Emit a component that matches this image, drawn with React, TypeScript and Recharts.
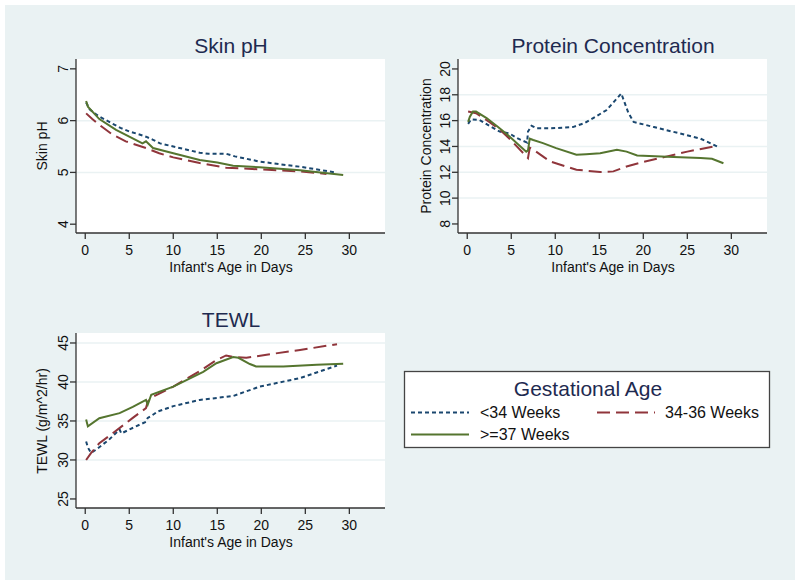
import { CartesianGrid, Line, LineChart, ReferenceLine, XAxis, YAxis } from 'recharts'

const NAVY = '#1a476f'
const MAROON = '#90353b'
const GREEN = '#55752f'
const BG = '#eaf2f3'
const INK = '#1e2a50'
const FONT = '"Liberation Sans", Arial, sans-serif'

const dayTicks = [0, 5, 10, 15, 20, 25, 30]

// Skin pH, [day, value]
const phLt34 = [[0.1, 6.35], [0.5, 6.22], [1, 6.15], [1.6, 6.08], [3, 5.95], [4, 5.86], [5, 5.79], [6, 5.74], [6.9, 5.69], [7.7, 5.63], [8.5, 5.56], [10, 5.5], [12, 5.42], [13, 5.38], [14, 5.36], [16, 5.36], [17, 5.31], [19.8, 5.21], [22, 5.16], [24.4, 5.11], [28.4, 5.0]]
const ph3436 = [[0.1, 6.14], [0.8, 6.03], [1.6, 5.92], [3.1, 5.73], [4.6, 5.6], [6.9, 5.47], [8.4, 5.37], [10, 5.29], [13, 5.18], [16, 5.09], [19.8, 5.06], [24.4, 5.02], [27.4, 4.97]]
const phGe37 = [[0.1, 6.38], [0.3, 6.27], [1.6, 6.03], [3.5, 5.82], [5, 5.69], [6.5, 5.56], [6.9, 5.6], [7.7, 5.47], [10, 5.37], [13, 5.24], [15, 5.19], [16.8, 5.13], [19.8, 5.1], [24.4, 5.04], [29.3, 4.95]]
const phTicks = [4, 5, 6, 7]
const phGrid = [5, 6]

// Protein concentration, [day, value]
const prLt34 = [[0.1, 15.75], [0.45, 16.1], [1.4, 16.05], [2.5, 15.6], [3.7, 15.15], [4.8, 15.0], [5.8, 14.6], [6.8, 14.3], [6.9, 15.15], [7.3, 15.6], [7.9, 15.4], [9.4, 15.4], [12, 15.5], [13.3, 15.8], [14.3, 16.2], [15.8, 16.8], [17.5, 18.1], [18.3, 16.6], [18.9, 15.9], [21.2, 15.5], [24.2, 15.0], [26.5, 14.6], [28.4, 14.0]]
const pr3436 = [[0.1, 16.7], [1, 16.57], [2.5, 15.9], [3.7, 15.3], [4.8, 14.6], [6.9, 13.1], [7.1, 13.9], [7.5, 13.75], [9.4, 12.84], [12.4, 12.2], [15.1, 12.02], [16.6, 12.07], [18.1, 12.45], [20, 12.8], [22.7, 13.23], [25, 13.6], [28.4, 14.05]]
const prGe37 = [[0.1, 15.9], [0.3, 16.3], [0.65, 16.7], [1, 16.7], [2.2, 16.2], [3.5, 15.5], [4.8, 14.77], [6.7, 13.6], [6.9, 13.7], [7.1, 14.6], [7.5, 14.5], [8.6, 14.26], [10.1, 13.87], [12.4, 13.36], [13.5, 13.4], [15.1, 13.48], [17, 13.74], [18.1, 13.6], [19.3, 13.3], [22.7, 13.2], [26.5, 13.1], [27.8, 13.05], [29.1, 12.7]]
const prTicks = [8, 10, 12, 14, 16, 18, 20]
const prGrid = [10, 12, 14, 16, 18]

// TEWL, [day, value]
const twLt34 = [[0.1, 32.37], [0.3, 31.6], [0.65, 30.9], [1.2, 31.3], [2.7, 32.6], [3.9, 33.9], [4.1, 33.4], [5, 33.9], [6.9, 34.9], [7.1, 35.4], [7.7, 35.8], [8.2, 36.2], [10, 36.9], [13, 37.7], [16.8, 38.2], [19.8, 39.4], [24.4, 40.5], [28.6, 42.1]]
const tw3436 = [[0.1, 30.0], [0.65, 30.87], [1.6, 32.15], [3.1, 33.4], [5.4, 35.4], [6.9, 36.65], [7.1, 37.5], [7.7, 38.1], [10, 39.4], [13, 41.4], [14.9, 42.8], [16, 43.4], [16.8, 43.2], [18.3, 43.1], [20.6, 43.5], [24.4, 44.1], [28.6, 44.85]]
const twGe37 = [[0.1, 35.2], [0.3, 34.3], [1.6, 35.36], [3.9, 36.0], [5.4, 36.8], [6.9, 37.7], [7.1, 37.1], [7.5, 38.36], [10, 39.4], [13.4, 41.3], [14.9, 42.4], [16.8, 43.2], [17.4, 43.1], [18.7, 42.3], [19.4, 42.0], [22.5, 42.0], [26.3, 42.2], [29.3, 42.35]]
const twTicks = [25, 30, 35, 40, 45]
const twGrid = [30, 35, 40, 45]

const legendLabels = ['<34 Weeks', '34-36 Weeks', '>=37 Weeks']

const toRows = (pairs: number[][]) => pairs.map(([x, y]) => ({ x, y }))

const XTick = ({ x, y, payload }: any) => (
  <text x={x} y={y} dy={14} textAnchor="middle" fontSize={14} fontFamily={FONT} fill="#111">
    {payload.value}
  </text>
)

const YTick = ({ x, y, payload }: any) => (
  <text
    x={x}
    y={y}
    transform={`rotate(-90 ${x} ${y})`}
    textAnchor="middle"
    fontSize={14}
    fontFamily={FONT}
    fill="#111"
  >
    {payload.value}
  </text>
)

type PanelProps = {
  left: number
  top: number
  height: number
  margin: { top: number; right: number; bottom: number; left: number }
  yDomain: [number, number]
  yTicks: number[]
  grid: number[]
  series: number[][][]
}

function Panel({ left, top, height, margin, yDomain, yTicks, grid, series }: PanelProps) {
  const colors = [NAVY, MAROON, GREEN]
  const dashes = ['4 3', '13 6', undefined]
  return (
    <div style={{ position: 'absolute', left, top }}>
      <LineChart width={400} height={height} margin={margin}>
        <CartesianGrid fill="#fff" stroke="none" horizontal={false} vertical={false} />
        {grid.map((g) => (
          <ReferenceLine key={g} y={g} stroke={BG} strokeWidth={1.5} />
        ))}
        <XAxis
          dataKey="x"
          type="number"
          domain={[-1.05, 34.05]}
          ticks={dayTicks}
          allowDataOverflow
          height={40}
          tickSize={6}
          tickMargin={2}
          tick={<XTick />}
          stroke="#333"
          strokeWidth={1.3}
        />
        <YAxis
          type="number"
          domain={yDomain}
          ticks={yTicks}
          allowDataOverflow
          width={40}
          tickSize={6}
          tickMargin={2}
          tick={<YTick />}
          stroke="#333"
          strokeWidth={1.3}
        />
        {series.map((s, i) => (
          <Line
            key={i}
            data={toRows(s)}
            dataKey="y"
            type="linear"
            stroke={colors[i]}
            strokeWidth={2}
            strokeDasharray={dashes[i]}
            dot={false}
            activeDot={false}
            isAnimationActive={false}
          />
        ))}
      </LineChart>
    </div>
  )
}

export default function App() {
  const text = { fontFamily: FONT }
  return (
    <div style={{ position: 'absolute', left: 0, top: 0, width: 800, height: 585, background: '#fff' }}>
      <div style={{ position: 'absolute', left: 5, top: 5, width: 790, height: 575, background: BG }} />
      <Panel
        left={0}
        top={0}
        height={290}
        margin={{ top: 59, right: 15, bottom: 17, left: 36 }}
        yDomain={[3.83, 7.19]}
        yTicks={phTicks}
        grid={phGrid}
        series={[phLt34, ph3436, phGe37]}
      />
      <Panel
        left={400}
        top={0}
        height={290}
        margin={{ top: 59, right: 33, bottom: 17, left: 18 }}
        yDomain={[7.3, 20.77]}
        yTicks={prTicks}
        grid={prGrid}
        series={[prLt34, pr3436, prGe37]}
      />
      <Panel
        left={0}
        top={290}
        height={295}
        margin={{ top: 43, right: 15, bottom: 37, left: 36 }}
        yDomain={[23.84, 46.28]}
        yTicks={twTicks}
        grid={twGrid}
        series={[twLt34, tw3436, twGe37]}
      />
      <svg width={800} height={585} style={{ position: 'absolute', left: 0, top: 0, pointerEvents: 'none' }}>
        <g style={text} fill={INK} fontSize={21} textAnchor="middle">
          <text x={231} y={53}>Skin pH</text>
          <text x={613} y={53}>Protein Concentration</text>
          <text x={231} y={327}>TEWL</text>
        </g>
        <g style={text} fill="#111" fontSize={14} textAnchor="middle">
          <text x={231} y={272}>Infant's Age in Days</text>
          <text x={613} y={272}>Infant's Age in Days</text>
          <text x={231} y={547}>Infant's Age in Days</text>
          <text x={46.5} y={146} transform="rotate(-90 46.5 146)">Skin pH</text>
          <text x={431} y={146} transform="rotate(-90 431 146)">Protein Concentration</text>
          <text x={47} y={421} transform="rotate(-90 47 421)">TEWL (g/m^2/hr)</text>
        </g>
        <rect x={404.5} y={371.5} width={365} height={76} fill="#fff" stroke="#444" strokeWidth={1.3} />
        <text x={588} y={396} textAnchor="middle" fontSize={21} fill={INK} style={text}>
          Gestational Age
        </text>
        <line x1={411} x2={469} y1={412.5} y2={412.5} stroke={NAVY} strokeWidth={2} strokeDasharray="4 3" />
        <line x1={597} x2={655} y1={412.5} y2={412.5} stroke={MAROON} strokeWidth={2} strokeDasharray="13 6" />
        <line x1={411} x2={469} y1={434.5} y2={434.5} stroke={GREEN} strokeWidth={2} />
        <g style={text} fill="#111" fontSize={16}>
          <text x={480} y={418}>{legendLabels[0]}</text>
          <text x={665} y={418}>{legendLabels[1]}</text>
          <text x={480} y={440}>{legendLabels[2]}</text>
        </g>
      </svg>
    </div>
  )
}
